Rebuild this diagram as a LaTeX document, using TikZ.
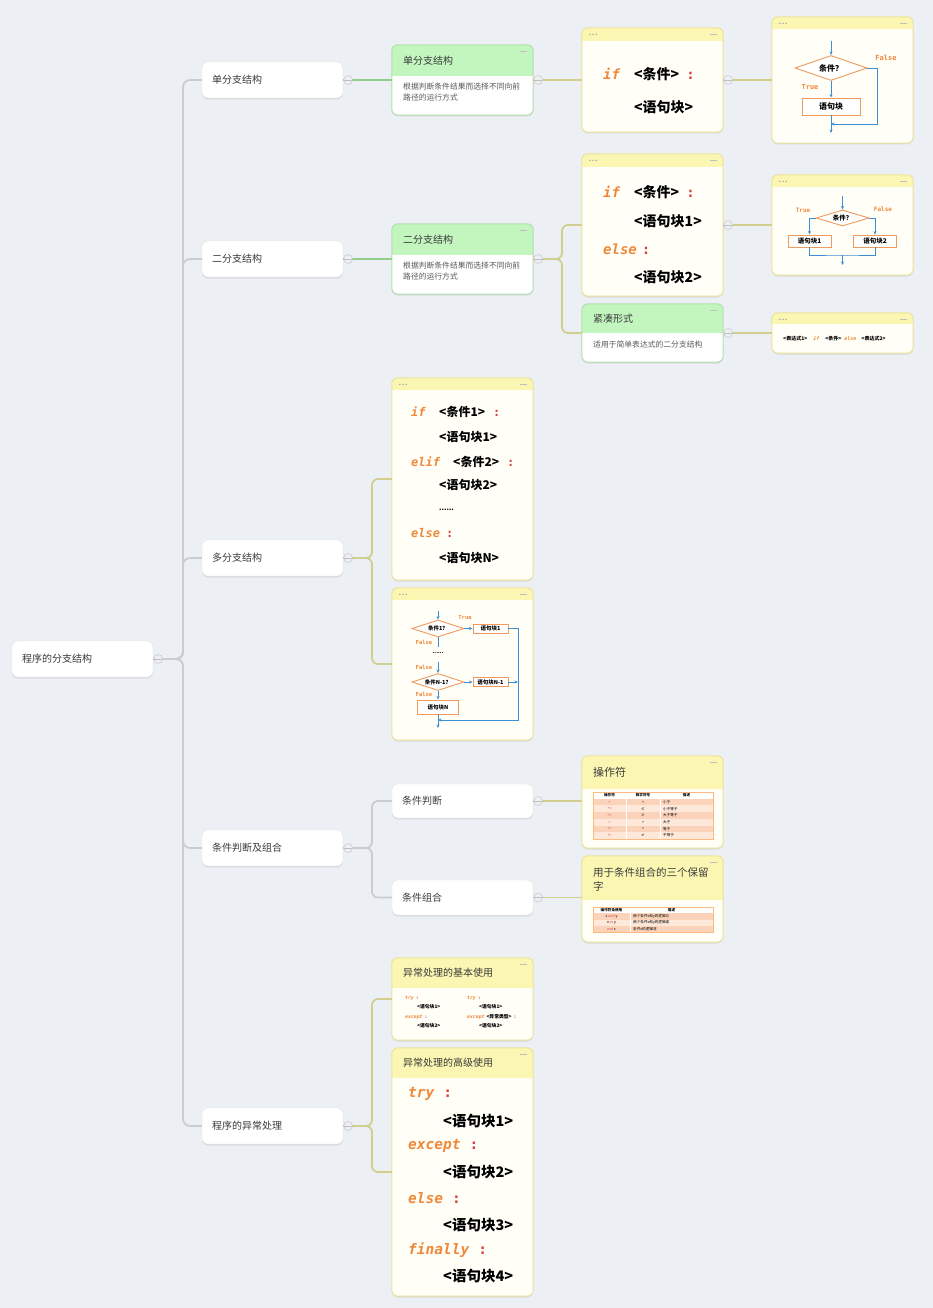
\documentclass[tikz,border=0pt]{standalone}
\usepackage{fontspec}
\setmainfont{Noto Sans CJK SC}
\newfontfamily\codefont{DejaVu Sans Mono}
\usetikzlibrary{arrows.meta,positioning,calc,shapes.geometric,shadows}

\definecolor{bgcol}{HTML}{ECEFF4}
\definecolor{linegray}{HTML}{C9CCD0}
\definecolor{linegreen}{HTML}{8FCE8B}
\definecolor{lineolive}{HTML}{D0CF8E}
\definecolor{greenhead}{HTML}{C2F6BE}
\definecolor{greenborder}{HTML}{B0E0AC}
\definecolor{yellowhead}{HTML}{FBF7B3}
\definecolor{yellowborder}{HTML}{EAE39A}
\definecolor{cardbody}{HTML}{FFFEF7}
\definecolor{kwcol}{HTML}{F0883A}
\definecolor{colcol}{HTML}{D94040}
\definecolor{flowblue}{HTML}{3D8FD4}
\definecolor{boxorange}{HTML}{EE9A5C}
\definecolor{txtgray}{HTML}{3A3A3A}
\definecolor{rowa}{HTML}{FBD3BA}
\definecolor{rowb}{HTML}{FDE8DA}

\newcommand{\kw}[1]{{\codefont\bfseries\itshape\color{kwcol}#1}}
\newcommand{\blk}[1]{{\bfseries #1}}
\newcommand{\kcolon}{{\codefont\bfseries\color{colcol}:}}

% header strip of a card, its border and the small mark on the right
\newcommand{\cardtop}[4]{%
  \begin{scope}
    \clip[rounded corners=6pt] (#1.north west) rectangle (#1.south east);
    \fill[#3] (#1.north west) rectangle ([yshift=-#2pt]#1.north east);
  \end{scope}
  \draw[#4, line width=1pt, rounded corners=6pt] (#1.north west) rectangle (#1.south east);
  \fill[black!25] ([xshift=-13pt,yshift=-6pt]#1.north east) rectangle ++(7pt,-1.2pt);
}
\newcommand{\carddots}[1]{%
  \foreach \k in {0,1,2}
    \fill[black!35] ([xshift={8pt+3.2pt*\k},yshift=-6.5pt]#1.north west) circle (0.8pt);
}

\tikzset{
  topic/.style={draw=black!10, fill=white, rounded corners=6pt, minimum width=141pt,
    minimum height=36pt, text width=121pt, inner xsep=10pt, inner ysep=0pt, align=left,
    text=txtgray, font=\fontsize{10}{12}\selectfont,
    drop shadow={shadow xshift=0pt, shadow yshift=-1.5pt, opacity=0.18}},
  card/.style={fill=cardbody, rounded corners=6pt, minimum width=141pt, inner sep=0pt,
    drop shadow={shadow xshift=0pt, shadow yshift=-1.5pt, opacity=0.18}},
  fold/.style={circle, draw=black!25, fill=bgcol, minimum size=9pt, inner sep=0pt,
    path picture={\draw[black!25] (path picture bounding box.west) -- (path picture bounding box.east);}},
  grayline/.style={draw=linegray, line width=1.8pt},
  greenline/.style={draw=linegreen, line width=1.8pt},
  oliveline/.style={draw=lineolive, line width=1.8pt},
  codeline/.style={anchor=west, inner sep=0pt, font=\fontsize{14}{16}\selectfont},
  flow/.style={draw=flowblue, line width=0.8pt},
  arr/.style={-{Stealth[length=3.5pt,width=3pt]}},
  fbox/.style={draw=boxorange, line width=0.9pt, fill=white, inner sep=0pt,
    font=\bfseries\fontsize{8}{9}\selectfont},
  fdia/.style={diamond, aspect=3, draw=boxorange, line width=0.9pt, fill=white, inner sep=0pt,
    font=\bfseries\fontsize{8}{9}\selectfont},
  flab/.style={text=kwcol, inner sep=0pt, font=\codefont\bfseries\fontsize{7}{8}\selectfont},
  htxt/.style={anchor=west, inner sep=0pt, text=txtgray, font=\fontsize{10}{12}\selectfont},
  btxt/.style={anchor=west, inner sep=0pt, align=left, text=black!65, font=\fontsize{7.8}{11}\selectfont},
  tabcell/.style={inner sep=0pt, font=\fontsize{3.6}{4}\selectfont},
}

\begin{document}
\begin{tikzpicture}[x=1pt, y=-1pt, font=\fontsize{10}{12}\selectfont]
  \useasboundingbox (0,0) rectangle (933,1308);
  \fill[bgcol] (0,0) rectangle (933,1308);

  % root and first level
  \node[topic] (root) at (82.5,659) {程序的分支结构};
  \node[topic] (single) at (272.5,80) {单分支结构};
  \node[topic] (dual) at (272.5,259) {二分支结构};
  \node[topic] (multi) at (272.5,558) {多分支结构};
  \node[topic] (cond) at (272.5,848) {条件判断及组合};
  \node[topic] (exc) at (272.5,1126) {程序的异常处理};

  % single branch
  \node[card, fill=white, minimum height=70pt] (singlec) at (462.5,80) {};
  \cardtop{singlec}{31}{greenhead}{greenborder}
  \node[htxt] (singleh) at (403,61) {单分支结构};
  \node[btxt] (singleb) at (403,92) {根据判断条件结果而选择不同向前\\路径的运行方式};

  \node[card, minimum height=104pt] (ifc) at (652.5,80) {};
  \cardtop{ifc}{13}{yellowhead}{yellowborder}
  \carddots{ifc}
  \node[codeline] (ifl1) at (603,74) {\makebox[31pt][l]{\kw{if}}\blk{<条件>}\hspace{7pt}\kcolon};
  \node[codeline] (ifl2) at (603,107) {\hspace{31pt}\blk{<语句块>}};

  \node[card, minimum height=126pt] (fc1) at (842.5,80) {};
  \cardtop{fc1}{12}{yellowhead}{yellowborder}
  \carddots{fc1}
  \coordinate (fc1in) at (831,41);
  \node[fdia, minimum width=72pt, minimum height=25pt] (fc1d) at (831,68) {条件？};
  \node[fbox, minimum width=58pt, minimum height=17pt] (fc1b) at (831,106.5) {语句块};
  \coordinate (fc1r) at (877,124);
  \coordinate (fc1out) at (831,133);
  \draw[flow, arr] (fc1in) -- (fc1d.north);
  \draw[flow, arr] (fc1d.south) -- (fc1b.north);
  \draw[flow, arr] (fc1b.south) -- (fc1out);
  \draw[flow, arr] (fc1d.east) -| (fc1r) -- (fc1r -| fc1b.south);
  \node[flab] (fc1t) at (810,87) {True};
  \node[flab] (fc1f) at (886,58) {False};

  % two branches
  \node[card, fill=white, minimum height=70pt] (dualc) at (462.5,259) {};
  \cardtop{dualc}{31}{greenhead}{greenborder}
  \node[htxt] (dualh) at (403,240) {二分支结构};
  \node[btxt] (dualb) at (403,271) {根据判断条件结果而选择不同向前\\路径的运行方式};

  \node[card, minimum height=142pt] (ifec) at (652.5,225) {};
  \cardtop{ifec}{13}{yellowhead}{yellowborder}
  \carddots{ifec}
  \node[codeline] (iel1) at (603,192) {\makebox[31pt][l]{\kw{if}}\blk{<条件>}\hspace{7pt}\kcolon};
  \node[codeline] (iel2) at (603,221) {\hspace{31pt}\blk{<语句块1>}};
  \node[codeline] (iel3) at (603,249) {\kw{else}\hspace{5pt}\kcolon};
  \node[codeline] (iel4) at (603,277) {\hspace{31pt}\blk{<语句块2>}};

  \node[card, minimum height=100pt] (fc2) at (842.5,225) {};
  \cardtop{fc2}{12}{yellowhead}{yellowborder}
  \carddots{fc2}
  \coordinate (fc2in) at (842.5,196);
  \node[fdia, minimum width=53pt, minimum height=16pt, font=\bfseries\fontsize{6.5}{7}\selectfont] (fc2d) at (842.5,218) {条件？};
  \node[fbox, minimum width=43pt, minimum height=12pt, font=\bfseries\fontsize{6.5}{7}\selectfont] (fc2a) at (809.5,241) {语句块1};
  \node[fbox, minimum width=43pt, minimum height=12pt, font=\bfseries\fontsize{6.5}{7}\selectfont] (fc2b) at (875,241) {语句块2};
  \coordinate (fc2j) at (842.5,255);
  \coordinate (fc2out) at (842.5,265);
  \draw[flow, arr] (fc2in) -- (fc2d.north);
  \draw[flow, arr] (fc2d.west) -| (fc2a.north);
  \draw[flow, arr] (fc2d.east) -| (fc2b.north);
  \draw[flow] (fc2a.south) |- (fc2j) -| (fc2b.south);
  \draw[flow, arr] (fc2j) -- (fc2out);
  \node[flab, font=\codefont\bfseries\fontsize{6}{7}\selectfont] (fc2t) at (803,210) {True};
  \node[flab, font=\codefont\bfseries\fontsize{6}{7}\selectfont] (fc2f) at (883,209) {False};

  \node[card, fill=white, minimum height=58pt] (compc) at (652.5,333) {};
  \cardtop{compc}{29}{greenhead}{greenborder}
  \node[htxt] (comph) at (593,319) {紧凑形式};
  \node[btxt] (compb) at (593,345) {适用于简单表达式的二分支结构};

  \node[card, minimum height=40pt] (cexp) at (842.5,333) {};
  \cardtop{cexp}{11}{yellowhead}{yellowborder}
  \carddots{cexp}
  \node[codeline, font=\bfseries\fontsize{5}{6}\selectfont] (cexpt) at (783,339)
    {<表达式1>\hspace{6pt}\kw{if}\hspace{6pt}<条件>\hspace{3pt}\kw{else}\hspace{5pt}<表达式2>};

  % multiple branches
  \node[card, minimum height=202pt] (mcode) at (462.5,479) {};
  \cardtop{mcode}{12}{yellowhead}{yellowborder}
  \carddots{mcode}
  \begin{scope}[every node/.style={codeline, font=\fontsize{12}{14}\selectfont}]
    \node (ml1) at (411,412) {\makebox[28pt][l]{\kw{if}}\blk{<条件1>}\hspace{8pt}\kcolon};
    \node (ml2) at (411,437) {\hspace{28pt}\blk{<语句块1>}};
    \node (ml3) at (411,462) {\makebox[42pt][l]{\kw{elif}}\blk{<条件2>}\hspace{8pt}\kcolon};
    \node (ml4) at (411,485) {\hspace{28pt}\blk{<语句块2>}};
    \node (ml5) at (411,510) {\hspace{28pt}\blk{\fontsize{7}{8}\selectfont ......}};
    \node (ml6) at (411,533) {\kw{else}\hspace{6pt}\kcolon};
    \node (ml7) at (411,558) {\hspace{28pt}\blk{<语句块N>}};
  \end{scope}

  \node[card, minimum height=152pt] (mflow) at (462.5,664) {};
  \cardtop{mflow}{12}{yellowhead}{yellowborder}
  \carddots{mflow}
  \begin{scope}[fdia/.append style={font=\bfseries\fontsize{5.5}{6}\selectfont},
                fbox/.append style={font=\bfseries\fontsize{5.5}{6}\selectfont},
                flab/.append style={font=\codefont\bfseries\fontsize{5.5}{6}\selectfont}]
    \coordinate (mfin) at (438,611);
    \node[fdia, minimum width=52pt, minimum height=17pt] (mfd1) at (438,628.5) {条件1？};
    \node[fbox, minimum width=35pt, minimum height=9pt] (mfb1) at (490.5,628.5) {语句块1};
    \coordinate (mfr) at (518,720);
    \coordinate (mfdot1) at (438,647);
    \node[inner sep=0pt, font=\bfseries\fontsize{5}{6}\selectfont] (mfdots) at (438,653) {......};
    \coordinate (mfdot2) at (438,662);
    \node[fdia, minimum width=52pt, minimum height=17pt] (mfd2) at (438,682) {条件N-1？};
    \node[fbox, minimum width=35pt, minimum height=9pt] (mfb2) at (490.5,682) {语句块N-1};
    \node[fbox, minimum width=41pt, minimum height=14pt] (mfbn) at (438,707) {语句块N};
    \coordinate (mfout) at (438,728);
    \draw[flow, arr] (mfin) -- (mfd1.north);
    \draw[flow, arr] (mfd1.east) -- (mfb1.west);
    \draw[flow, arr] (mfb1.east) -| (mfr) -- (mfr -| mfbn.south);
    \draw[flow] (mfd1.south) -- (mfdot1);
    \draw[flow, arr] (mfdot2) -- (mfd2.north);
    \draw[flow, arr] (mfd2.east) -- (mfb2.west);
    \draw[flow, arr] (mfb2.east) -- (mfb2.east -| mfr);
    \draw[flow, arr] (mfd2.south) -- (mfbn.north);
    \draw[flow, arr] (mfbn.south) -- (mfout);
    \node[flab] (mft) at (465,618) {True};
    \node[flab] (mff1) at (424,642) {False};
    \node[flab] (mff2) at (424,667) {False};
    \node[flab] (mff3) at (424,694) {False};
  \end{scope}

  % conditions
  \node[topic, minimum height=34pt] (judge) at (462.5,801) {条件判断};
  \node[topic, minimum height=35pt] (combo) at (462.5,897.5) {条件组合};

  \node[card, minimum height=92pt] (opc) at (652.5,802) {};
  \cardtop{opc}{33}{yellowhead}{yellowborder}
  \node[htxt, font=\fontsize{11}{13}\selectfont] (oph) at (593,772) {操作符};
  \fill[white] (593,792) rectangle (713,798.7);
  \node[tabcell, font=\bfseries\fontsize{3.6}{4}\selectfont] (oph1) at (609.5,795.3) {操作符};
  \node[tabcell, font=\bfseries\fontsize{3.6}{4}\selectfont] (oph2) at (643,795.3) {数学符号};
  \node[tabcell, font=\bfseries\fontsize{3.6}{4}\selectfont] (oph3) at (686.5,795.3) {描述};
  \foreach [count=\r] \a/\b/\c in {</</小于, <=/≤/小于等于, >=/≥/大于等于, >/>/大于, ==/=/等于, !=/≠/不等于}{
    \ifodd\r \def\rc{rowa}\else\def\rc{rowb}\fi
    \fill[\rc] (593,{792+6.7*\r}) rectangle (713,{798.7+6.7*\r});
    \node[tabcell, text=colcol] (opx\r) at (609.5,{795.35+6.7*\r}) {\a};
    \node[tabcell] (opy\r) at (643,{795.35+6.7*\r}) {\b};
    \node[tabcell, anchor=west] (opz\r) at (663,{795.35+6.7*\r}) {\c};
  }
  \draw[white, line width=0.5pt] (626,792) -- (626,839) (660,792) -- (660,839);
  \draw[rowa!70!orange, line width=0.4pt] (593,792) rectangle (713,839);

  \node[card, minimum height=86pt] (kwc) at (652.5,899) {};
  \cardtop{kwc}{44}{yellowhead}{yellowborder}
  \node[htxt, align=left, font=\fontsize{10.5}{14}\selectfont] (kwh) at (593,879) {用于条件组合的三个保留\\字};
  \fill[white] (593,907) rectangle (713,913.25);
  \fill[rowa] (593,913.25) rectangle (713,919.5);
  \fill[rowb] (593,919.5) rectangle (713,925.75);
  \fill[rowa] (593,925.75) rectangle (713,932);
  \node[tabcell, font=\bfseries\fontsize{3.6}{4}\selectfont] (kwh1) at (611.5,910.1) {操作符及使用};
  \node[tabcell, font=\bfseries\fontsize{3.6}{4}\selectfont] (kwh2) at (671.5,910.1) {描述};
  \node[tabcell] (kwx1) at (611.5,916.4) {x \textcolor{colcol}{and} y};
  \node[tabcell, anchor=west] (kwy1) at (633,916.4) {两个条件x和y的逻辑与};
  \node[tabcell] (kwx2) at (611.5,922.6) {x \textcolor{colcol}{or} y};
  \node[tabcell, anchor=west] (kwy2) at (633,922.6) {两个条件x和y的逻辑或};
  \node[tabcell] (kwx3) at (611.5,928.9) {\textcolor{colcol}{not} x};
  \node[tabcell, anchor=west] (kwy3) at (633,928.9) {条件x的逻辑非};
  \draw[white, line width=0.5pt] (630,907) -- (630,932);
  \draw[rowa!70!orange, line width=0.4pt] (593,907) rectangle (713,932);

  % exceptions
  \node[card, minimum height=82pt] (excb) at (462.5,999) {};
  \cardtop{excb}{30}{yellowhead}{yellowborder}
  \node[htxt] (excbh) at (403,973) {异常处理的基本使用};
  \begin{scope}[every node/.style={codeline, font=\fontsize{4.8}{5}\selectfont}]
    \node (eb1) at (405,998) {\kw{try}\hspace{2pt}\kcolon};
    \node (eb2) at (417,1007) {\blk{<语句块1>}};
    \node (eb3) at (405,1017) {\kw{except}\hspace{2pt}\kcolon};
    \node (eb4) at (417,1026) {\blk{<语句块2>}};
    \node (eb5) at (467,998) {\kw{try}\hspace{2pt}\kcolon};
    \node (eb6) at (479,1007) {\blk{<语句块1>}};
    \node (eb7) at (467,1017) {\kw{except}\hspace{2pt}\blk{<异常类型>}\hspace{2pt}\kcolon};
    \node (eb8) at (479,1026) {\blk{<语句块2>}};
  \end{scope}

  \node[card, minimum height=248pt] (exca) at (462.5,1172) {};
  \cardtop{exca}{30}{yellowhead}{yellowborder}
  \node[htxt] (excah) at (403,1063) {异常处理的高级使用};
  \begin{scope}[every node/.style={codeline, font=\fontsize{14.5}{16}\selectfont}]
    \node (ea1) at (408,1094) {\kw{try}\hspace{9pt}\kcolon};
    \node (ea2) at (408,1121) {\hspace{35pt}\blk{<语句块1>}};
    \node (ea3) at (408,1146) {\kw{except}\hspace{9pt}\kcolon};
    \node (ea4) at (408,1172) {\hspace{35pt}\blk{<语句块2>}};
    \node (ea5) at (408,1198) {\kw{else}\hspace{9pt}\kcolon};
    \node (ea6) at (408,1225) {\hspace{35pt}\blk{<语句块3>}};
    \node (ea7) at (408,1250) {\kw{finally}\hspace{9pt}\kcolon};
    \node (ea8) at (408,1276) {\hspace{35pt}\blk{<语句块4>}};
  \end{scope}

  % connectors
  \coordinate (trunk) at (183,659);
  \foreach \lv in {single,dual,multi,cond,exc}
    \draw[grayline, rounded corners=7pt] (root.east) -- (trunk) |- (\lv.west);
  \draw[greenline] (single.east) -- (singlec.west);
  \draw[greenline] (dual.east) -- (dualc.west);
  \coordinate (mj) at (372,558);
  \draw[oliveline, rounded corners=6pt] (multi.east) -- (mj) |- (mcode.west);
  \draw[oliveline, rounded corners=6pt] (multi.east) -- (mj) |- (mflow.west);
  \coordinate (cj) at (372,848);
  \draw[grayline, rounded corners=6pt] (cond.east) -- (cj) |- (judge.west);
  \draw[grayline, rounded corners=6pt] (cond.east) -- (cj) |- (combo.west);
  \coordinate (ej) at (372,1126);
  \draw[oliveline, rounded corners=6pt] (exc.east) -- (ej) |- (excb.west);
  \draw[oliveline, rounded corners=6pt] (exc.east) -- (ej) |- (exca.west);
  \draw[oliveline] (singlec.east) -- (ifc.west);
  \draw[oliveline] (ifc.east) -- (fc1.west);
  \coordinate (dj) at (562,259);
  \draw[oliveline, rounded corners=6pt] (dualc.east) -- (dj) |- (ifec.west);
  \draw[oliveline, rounded corners=6pt] (dualc.east) -- (dj) |- (compc.west);
  \draw[oliveline] (ifec.east) -- (fc2.west);
  \draw[oliveline] (compc.east) -- (cexp.west);
  \draw[oliveline] (judge.east) -- (judge.east -| opc.west);
  \draw[oliveline] (combo.east) -- (combo.east -| kwc.west);

  % fold marks
  \foreach \lv in {root,single,dual,multi,cond,exc,singlec,dualc,ifc,ifec,compc,judge,combo}
    \node[fold] (f-\lv) at ([xshift=5pt]\lv.east) {};
\end{tikzpicture}
\end{document}
